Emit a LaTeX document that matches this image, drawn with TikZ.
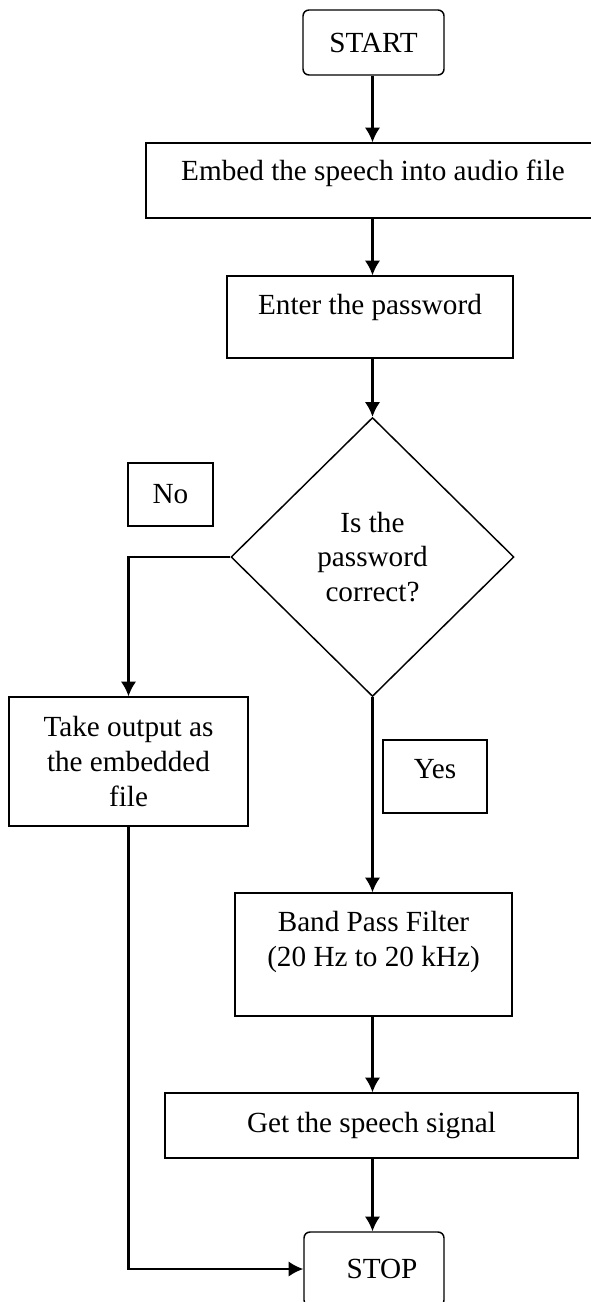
\documentclass[tikz,border=0pt]{standalone}
\usepackage{fontspec}
\setmainfont{Liberation Serif}
\usetikzlibrary{shapes.geometric,arrows.meta}

\begin{document}
\begin{tikzpicture}
	[
		x=0.75pt, y=-0.75pt,
		font=\fontsize{21.9}{26}\selectfont,
		termnode/.style={rectangle, rounded corners=4.5pt, draw=black, line width=1.1pt, align=center},
		boxnode/.style={rectangle, draw=black, line width=1.1pt, align=center},
		decisionnode/.style={diamond, draw=black, line width=1.1pt, align=center, inner sep=0pt},
		flowarrow/.style={line width=1.6pt, -{Latex[length=11pt,width=11.5pt]}},
	]

	\useasboundingbox (0,0) rectangle (591,1302);

	\node[termnode, minimum width=105.75pt, minimum height=48.75pt] (start) at (373.5,42.5) {START};
	\node[boxnode, minimum width=340.5pt, minimum height=56.25pt, text height=8pt, text depth=8pt] (embed) at (373,180.5) {Embed the speech into audio file};
	\node[boxnode, minimum width=214.5pt, minimum height=61.5pt, text height=8pt, text depth=12.5pt] (enter) at (370,317) {Enter the password};
	\node[decisionnode, minimum width=212.25pt, minimum height=209.25pt] (check) at (372.5,557) {Is the\\password\\correct?};
	\node[boxnode, minimum width=63.75pt, minimum height=47.25pt] (no) at (170.5,494.5) {No};
	\node[boxnode, minimum width=179.25pt, minimum height=96.75pt] (takeout) at (128.5,761.5) {Take output as\\the embedded\\file};
	\node[boxnode, minimum width=78pt, minimum height=54.75pt, text height=12pt, text depth=9.75pt] (yes) at (435,776.5) {Yes};
	\node[boxnode, minimum width=207.75pt, minimum height=92.25pt, text height=30pt, text depth=12.75pt] (bandpass) at (373.5,954.5) {Band Pass Filter\\(20 Hz to 20 kHz)};
	\node[boxnode, minimum width=309.75pt, minimum height=48.75pt] (speech) at (371.5,1125.5) {Get the speech signal};
	\node[termnode, minimum width=105pt, minimum height=55.5pt] (stop) at (374,1269) {\hspace{12pt}STOP};

	\draw[flowarrow] (check.north |- start.south) -- (check.north |- embed.north);
	\draw[flowarrow] (check.north |- embed.south) -- (check.north |- enter.north);
	\draw[flowarrow] (check.north |- enter.south) -- (check.north);
	\draw[flowarrow] (check.west) -| (takeout.north);
	\draw[flowarrow] (check.south) -- (check.south |- bandpass.north);
	\draw[flowarrow] (check.south |- bandpass.south) -- (check.south |- speech.north);
	\draw[flowarrow] (check.south |- speech.south) -- (check.south |- stop.north);
	\draw[flowarrow] (takeout.south) |- (stop.west);

\end{tikzpicture}
\end{document}
